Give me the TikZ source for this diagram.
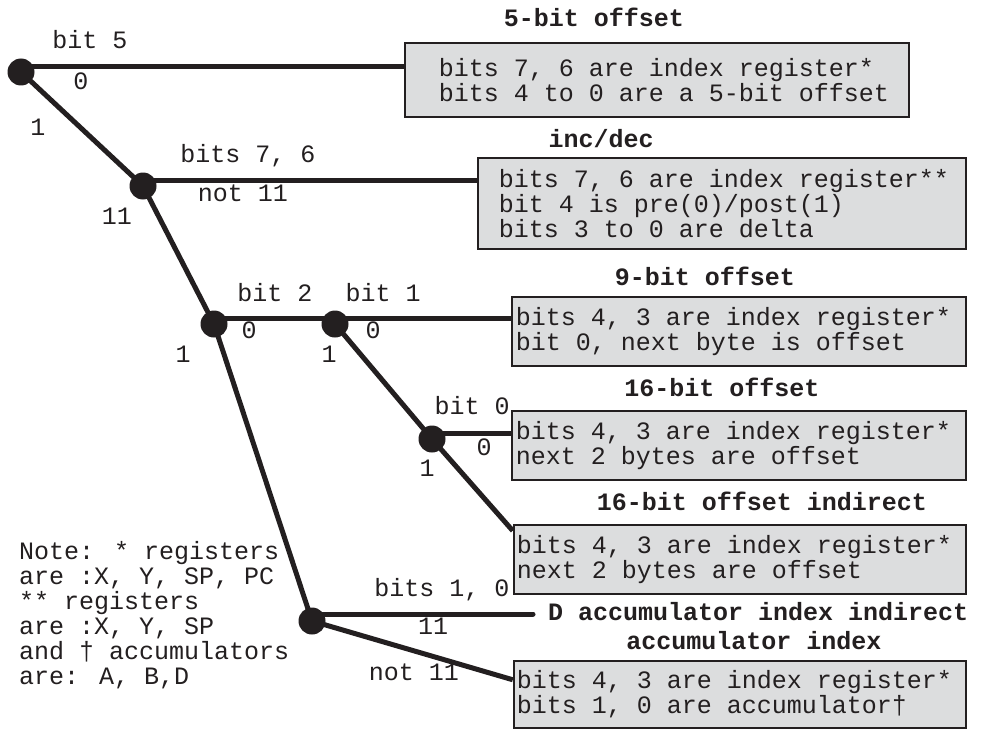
\documentclass[tikz,border=0pt]{standalone}
\usepackage{fontspec}
\usetikzlibrary{calc}
\newfontfamily\codefont{Liberation Mono}
\definecolor{ink}{HTML}{231F20}
\definecolor{boxgray}{HTML}{DCDDDE}
\begin{document}
\begin{tikzpicture}[x=1pt,y=-1pt,
  dot/.style={circle, fill=ink, inner sep=0pt, minimum size=27pt},
  wire/.style={draw=ink, line width=5pt},
  infobox/.style={draw=ink, line width=2.5pt, fill=boxgray, inner sep=0pt},
  boxtext/.style={anchor=west, inner sep=0pt, align=left, text=ink,
    font=\codefont\fontsize{25}{25}\selectfont},
  lbl/.style={inner sep=0pt, text=ink, font=\codefont\fontsize{25}{25}\selectfont},
  title/.style={inner sep=0pt, text=ink, font=\codefont\bfseries\fontsize{25}{25}\selectfont}]

% canvas
\fill[white] (0,0) rectangle (981,733);
\useasboundingbox (0,0) rectangle (981,733);

% result boxes
\node[infobox, minimum width=504pt, minimum height=74pt] (box1) at (657,80) {};
\node[infobox, minimum width=488pt, minimum height=91pt] (box2) at (722,203.5) {};
\node[infobox, minimum width=454pt, minimum height=69pt] (box3) at (739,331.5) {};
\node[infobox, minimum width=454pt, minimum height=69pt] (box4) at (739,445.5) {};
\node[infobox, minimum width=452pt, minimum height=69pt] (box5) at (740,559.5) {};
\node[infobox, minimum width=452pt, minimum height=67pt] (box6) at (740,694.5) {};

\node[boxtext] (t1) at ([xshift=35pt]box1.west) {bits 7, 6 are index register*\\bits 4 to 0 are a 5-bit offset};
\node[boxtext] (t2) at ([xshift=22pt]box2.west) {bits 7, 6 are index register**\\bit 4 is pre(0)/post(1)\\bits 3 to 0 are delta};
\node[boxtext] (t3) at ([xshift=5pt]box3.west) {bits 4, 3 are index register*\\bit 0, next byte is offset};
\node[boxtext] (t4) at ([xshift=5pt]box4.west) {bits 4, 3 are index register*\\next 2 bytes are offset};
\node[boxtext] (t5) at ([xshift=4pt]box5.west) {bits 4, 3 are index register*\\next 2 bytes are offset};
\node[boxtext] (t6) at ([xshift=4pt]box6.west) {bits 4, 3 are index register*\\bits 1, 0 are accumulator†};

% box titles
\node[title] (h1) at (594,17) {5-bit offset};
\node[title] (h2) at (601,139) {inc/dec};
\node[title] (h3) at (705,276) {9-bit offset};
\node[title] (h4) at (722,387) {16-bit offset};
\node[title] (h5) at (762,501) {16-bit offset indirect};
\node[title, anchor=west] (h6) at (548,612) {D accumulator index indirect};
\node[title] (h7) at (754,641) {accumulator index};

% decision points
\node[dot] (A) at (21,72) {};
\node[dot] (B) at (143,186) {};
\node[dot] (C) at (214,324) {};
\node[dot] (D) at (335,324) {};
\node[dot] (E) at (432,439) {};
\node[dot] (F) at (312,621) {};

\coordinate (e5) at ($(box5.north west)+(0,7)$);
\coordinate (e6) at ($(box6.north west)+(0,20)$);
\coordinate (fend) at (533,614);

% branches
\path[wire] ([yshift=5pt]A.center) -- ([yshift=5pt]A.center -| box1.west);
\path[wire] (A.center) -- (B.center);
\path[wire] ([yshift=6pt]B.center) -- ([yshift=6pt]B.center -| box2.west);
\path[wire] (B.center) -- (C.center);
\path[wire] ([yshift=6pt]C.center) -- ([yshift=6pt]D.center);
\path[wire] ([yshift=6pt]D.center) -- ([yshift=6pt]D.center -| box3.west);
\path[wire] (D.center) -- (E.center);
\path[wire] ([yshift=6pt]E.center) -- ([yshift=6pt]E.center -| box4.west);
\path[wire] (E.center) -- (e5);
\path[wire] (C.center) -- (F.center);
\path[wire, line cap=round] ([yshift=7pt]F.center) -- (fend);
\path[wire] (F.center) -- (e6);

% bit labels
\node[lbl] (l1) at (90,40) {bit 5};
\node[lbl] (l2) at (81,81) {0};
\node[lbl] (l3) at (38,127) {1};
\node[lbl] (l4) at (248,156) {bits 7, 6};
\node[lbl] (l5) at (243,193) {not 11};
\node[lbl] (l6) at (117,216) {11};
\node[lbl] (l7) at (275,293) {bit 2};
\node[lbl] (l8) at (383,293) {bit 1};
\node[lbl] (l9) at (249,330) {0};
\node[lbl] (l10) at (373,330) {0};
\node[lbl] (l11) at (183,354) {1};
\node[lbl] (l12) at (329,354) {1};
\node[lbl] (l13) at (472,406) {bit 0};
\node[lbl] (l14) at (484,447) {0};
\node[lbl] (l15) at (427,468) {1};
\node[lbl] (l16) at (442,590) {bits 1, 0};
\node[lbl] (l17) at (433,626) {11};
\node[lbl] (l18) at (414,672) {not 11};

% footnote
\node[lbl, anchor=north west, align=left] (note) at (19,541)
  {Note: * registers\\are :X, Y, SP, PC\\** registers\\are :X, Y, SP\\and † accumulators\\are: A, B,D};
\end{tikzpicture}
\end{document}
